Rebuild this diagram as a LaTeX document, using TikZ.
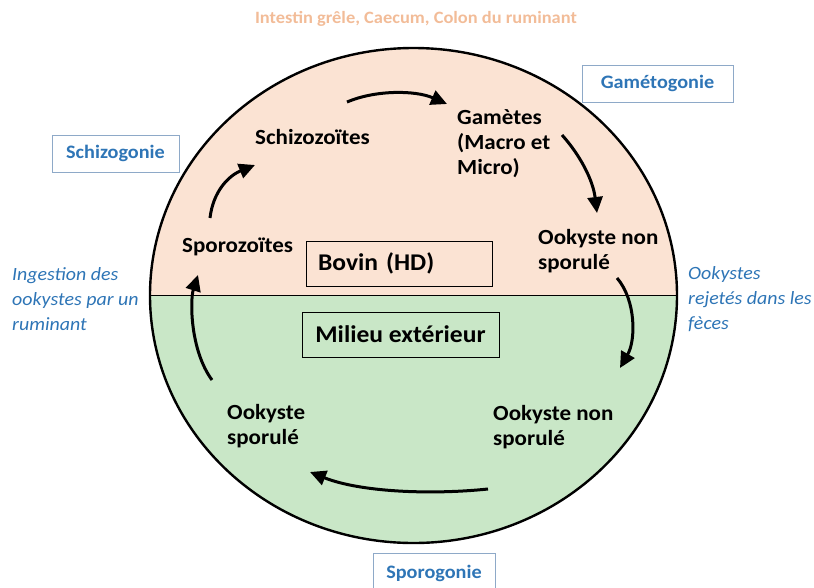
\documentclass[tikz,border=0pt]{standalone}
\usepackage{fontspec}
\setmainfont{Carlito}[FakeStretch=1.065]
\usetikzlibrary{arrows.meta}
\definecolor{peach}{HTML}{FBE3D3}
\definecolor{mint}{HTML}{C9E7C7}
\definecolor{stageblue}{HTML}{2E75B6}
\definecolor{titleorange}{HTML}{F2BC98}
\definecolor{boxedge}{HTML}{8EA9C8}
\begin{document}
\begin{tikzpicture}[x=1pt,y=-1pt,
  stage/.style={font=\bfseries\fontsize{21.6}{25}\selectfont, align=left, anchor=west, inner sep=0pt},
  phase/.style={draw=boxedge, line width=0.8pt, font=\bfseries\fontsize{19}{22}\selectfont, text=stageblue, inner sep=0pt},
  place/.style={draw=black, line width=1pt, font=\bfseries\fontsize{24}{28}\selectfont, inner sep=0pt},
  note/.style={font=\itshape\fontsize{18.7}{25}\selectfont, text=stageblue, align=left, anchor=west, inner sep=0pt},
  cyc/.style={line width=3pt, -{Triangle[length=16pt,width=15pt]}}
]
\useasboundingbox (0,0) rectangle (814,587);

% host half (top) and environment half (bottom) of the cycle disc
\begin{scope}
  \clip (140,0) rectangle (690,295.5);
  \fill[peach] (413.5,295.5) ellipse [x radius=263.5pt, y radius=247.5pt];
\end{scope}
\begin{scope}
  \clip (140,295.5) rectangle (690,560);
  \fill[mint] (413.5,295.5) ellipse [x radius=263.5pt, y radius=247.5pt];
\end{scope}
\coordinate (wl) at (150,295.5);
\coordinate (wr) at (677,295.5);
\draw[line width=1.6pt] (wl) -- (wr);
\draw[line width=2.4pt] (413.5,295.5) ellipse [x radius=263.5pt, y radius=247.5pt];

% title
\node[font=\bfseries\fontsize{17.3}{20}\selectfont, text=titleorange] (title) at (416,19) {Intestin grêle, Caecum, Colon du ruminant};

% phase boxes
\node[phase, minimum width=127pt, minimum height=37pt] (schizog) at (115.5,153.5) {Schizogonie};
\node[phase, minimum width=151pt, minimum height=37pt] (gametog) at (657.5,83.5) {Gamétogonie};
\node[phase, minimum width=122pt, minimum height=40pt, anchor=north] (sporog) at (434,553) {};
\node[font=\bfseries\fontsize{19}{22}\selectfont, text=stageblue] (sporot) at (434,573) {Sporogonie};

% host / environment boxes
\node[place, minimum height=45pt, text width=162pt, inner xsep=12pt, align=left] (host) at (399,263.5) {Bovin (HD)};
\node[place, minimum width=197pt, minimum height=45pt] (outside) at (400.5,334.5) {Milieu extérieur};

% stages of the cycle
\node[stage] (schizo) at (255,137) {Schizozoïtes};
\node[stage] (gam) at (457,144) {Gamètes\\(Macro et\\Micro)};
\node[stage] (ooktop) at (538,251) {Ookyste non\\sporulé};
\node[stage] (sporo) at (182,247) {Sporozoïtes};
\node[stage] (ookspo) at (227,426) {Ookyste\\sporulé};
\node[stage] (ookbot) at (493,427) {Ookyste non\\sporulé};

% side notes
\node[note] (ingest) at (12,299) {Ingestion des\\ookystes par un\\ruminant};
\node[note] (reject) at (688,299) {Ookystes\\rejetés dans les\\fèces};

% cycle arrows
\coordinate (a1s) at (210,218);  \coordinate (a1e) at (255,165);
\coordinate (a2s) at (347,102);  \coordinate (a2e) at (447,104);
\coordinate (a3s) at (562,135);  \coordinate (a3e) at (597,213);
\coordinate (a4s) at (617,278);  \coordinate (a4e) at (620,368);
\coordinate (a5s) at (488,489);  \coordinate (a5e) at (310,472);
\coordinate (a6s) at (212,380);  \coordinate (a6e) at (198,275);
\draw[cyc] (a1s) .. controls (213,192) and (228,176) .. (a1e);
\draw[cyc] (a2s) .. controls (375,90) and (415,90) .. (a2e);
\draw[cyc] (a3s) .. controls (580,155) and (593,180) .. (a3e);
\draw[cyc] (a4s) .. controls (636,300) and (636,340) .. (a4e);
\draw[cyc] (a5s) .. controls (430,495) and (360,492) .. (a5e);
\draw[cyc] (a6s) .. controls (190,350) and (190,300) .. (a6e);
\end{tikzpicture}
\end{document}
